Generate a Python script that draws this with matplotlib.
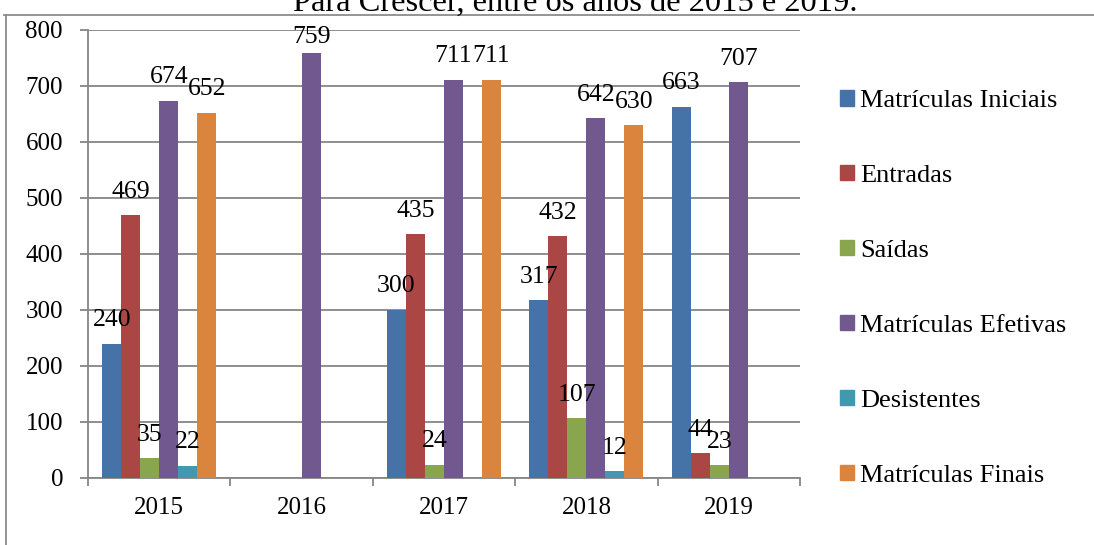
import numpy as np
import matplotlib
matplotlib.use("Agg")
import matplotlib.pyplot as plt
from matplotlib.lines import Line2D
from matplotlib.patches import Rectangle

plt.rcParams['font.family'] = ['Liberation Serif', 'DejaVu Serif']

years = ["2015", "2016", "2017", "2018", "2019"]
series_names = ["Matrículas Iniciais", "Entradas", "Saídas",
                "Matrículas Efetivas", "Desistentes", "Matrículas Finais"]
matriculas_iniciais = [240, None, 300, 317, 663]
entradas = [469, None, 435, 432, 44]
saidas = [35, None, 24, 107, 23]
matriculas_efetivas = [674, 759, 711, 642, 707]
desistentes = [22, None, None, 12, None]
matriculas_finais = [652, None, 711, 630, None]
series = [matriculas_iniciais, entradas, saidas,
          matriculas_efetivas, desistentes, matriculas_finais]
colors = ["#4572A7", "#AA4643", "#89A54E", "#71588F", "#4198AF", "#DB843D"]
title = "Para Crescer, entre os anos de 2015 e 2019."

W, H = 1094, 545
fig = plt.figure(figsize=(W / 100, H / 100), dpi=100)
ax_h_px = 478 - 30
ax = fig.add_axes([88 / W, 1 - 478 / H, (800 - 88) / W, ax_h_px / H])

YMAX = 800
px_per_unit = ax_h_px / YMAX
pt_per_px = 72 / 100
label_gap_pt = 12.6
label_max_baseline = 777  # labels kept inside the chart area (as Excel does)

x = np.arange(len(years))
n = len(series)
bw = 1 / (n + 1.5)
for i, (vals, c, name) in enumerate(zip(series, colors, series_names)):
    xs = [xx + (i - (n - 1) / 2) * bw for xx, v in zip(x, vals) if v is not None]
    vs = [v for v in vals if v is not None]
    ax.bar(xs, vs, width=bw, color=c, label=name, zorder=3, edgecolor='none')
    for xx, v in zip(xs, vs):
        off = min(label_gap_pt, (label_max_baseline - v) * px_per_unit * pt_per_px)
        ax.annotate(str(v), (xx, v), xytext=(0, off), textcoords='offset points',
                    ha='center', va='baseline', fontsize=18.5, zorder=5,
                    annotation_clip=False)

ax.set_xlim(-0.5, len(years) - 0.5)
ax.set_ylim(0, YMAX)
ax.set_yticks(range(0, YMAX + 1, 100))
ax.set_xticks(x)
ax.set_xticklabels(years)
ax.set_xticks(np.arange(-0.5, len(years), 1), minor=True)
ax.tick_params(axis='x', which='major', length=0, labelsize=18, pad=14)
ax.tick_params(axis='x', which='minor', length=6, width=1.3, color='#868686')
ax.tick_params(axis='y', length=6, width=1.3, color='#868686', labelsize=18, pad=12)
ax.yaxis.grid(True, color='#868686', linewidth=1.3, zorder=0)
ax.set_axisbelow(True)
for s in ['top', 'right']:
    ax.spines[s].set_visible(False)
for s in ['left', 'bottom']:
    ax.spines[s].set_color('#868686')
    ax.spines[s].set_linewidth(1.3)

handles = [Rectangle((0, 0), 1, 1, color=c) for c in colors]
fig.legend(handles, series_names, loc='upper left',
           bbox_to_anchor=(840 / W, 1 - 90 / H), frameon=False,
           fontsize=19, handlelength=0.53, handleheight=0.53,
           handletextpad=0.22, labelspacing=2.0, borderpad=0,
           borderaxespad=0)

fig.text(575 / W, 1 - 11 / H, title, ha='center', va='baseline', fontsize=23.4)

fig.add_artist(Line2D([6 / W, 6 / W], [0, 1 - 15 / H], color='#8c8c8c', lw=1.3))
fig.add_artist(Line2D([4 / W, 1], [1 - 15 / H, 1 - 15 / H], color='#8c8c8c', lw=1.3))

fig.savefig("out.png", dpi=100)
